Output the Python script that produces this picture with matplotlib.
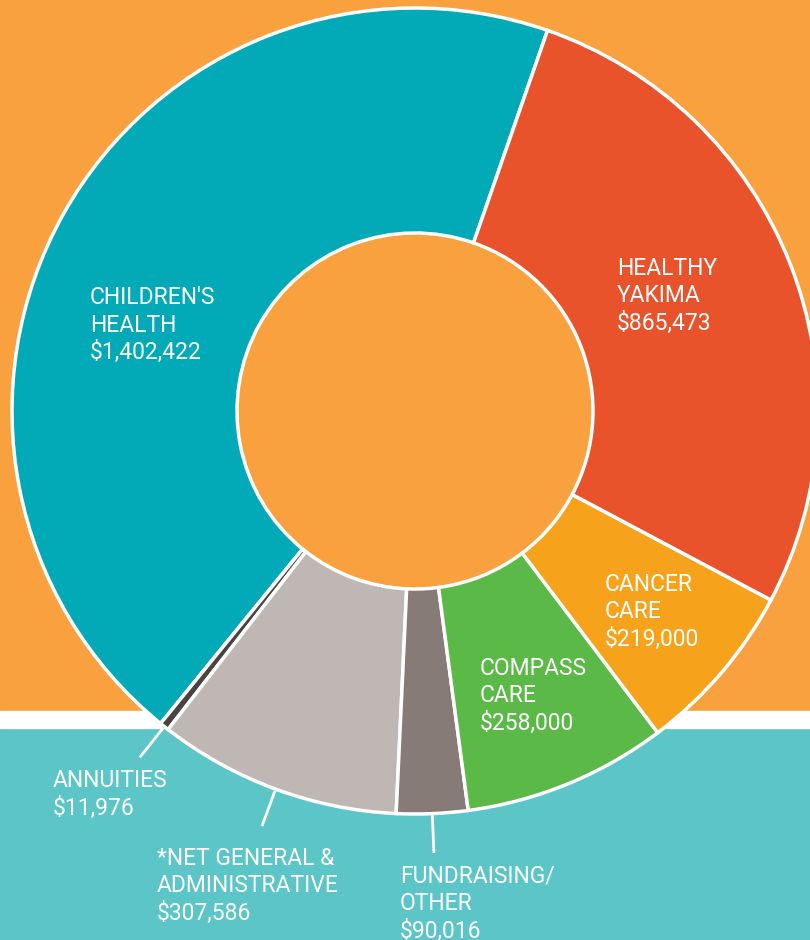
import numpy as np
import matplotlib.pyplot as plt
from matplotlib.patches import Rectangle

# data, in drawing order (counterclockwise from the top)
names = ["CHILDREN'S\nHEALTH", "ANNUITIES", "*NET GENERAL &\nADMINISTRATIVE",
         "FUNDRAISING/\nOTHER", "COMPASS\nCARE", "CANCER\nCARE", "HEALTHY\nYAKIMA"]
amounts = [1402422, 11976, 307586, 90016, 258000, 219000, 865473]
colors = ["#02A9B7", "#4A4341", "#BFB7B3", "#877B77", "#5AB947", "#F7A21B", "#E8532B"]

# label anchor points (pixels, top-left of text block)
label_pos = [(90, 286), (53, 769), (157, 847), (400, 865), (480, 657), (605, 573), (617, 257)]
leader = [False, True, True, True, False, False, False]

W, H = 810, 940
fig = plt.figure(figsize=(W / 100, H / 100), dpi=100)
fig.patch.set_facecolor("#5BC5C8")
ax = fig.add_axes([0, 0, 1, 1])

# background bands
ax.add_patch(Rectangle((0, H - 711), W, 711, color="#F9A03F", zorder=0))
ax.add_patch(Rectangle((0, H - 728), W, 17, color="white", zorder=0))

cx, cy, R, r_in = 415, H - 411, 403, 178
wedges, _ = ax.pie(amounts, colors=colors, startangle=70.8, counterclock=True,
                   center=(cx, cy), radius=R, frame=True,
                   wedgeprops=dict(width=R - r_in, edgecolor="white", linewidth=2.5))
ax.set_xlim(0, W)
ax.set_ylim(0, H)
ax.set_aspect("equal")
ax.axis("off")

for w, name, amt, (lx, ly), lead in zip(wedges, names, amounts, label_pos, leader):
    txt = name + "\n" + "${:,}".format(amt)
    ax.text(lx, H - ly, txt, color="white", fontsize=16.5, family="Roboto",
            va="top", ha="left", linespacing=1.25, zorder=5)
    if lead:
        a = np.deg2rad((w.theta1 + w.theta2) / 2)
        ax.plot([cx + (R + 3) * np.cos(a), cx + 441 * np.cos(a)],
                [cy + (R + 3) * np.sin(a), cy + 441 * np.sin(a)],
                color="white", lw=2, zorder=4)

fig.savefig("out.png", dpi=100, facecolor=fig.get_facecolor())
